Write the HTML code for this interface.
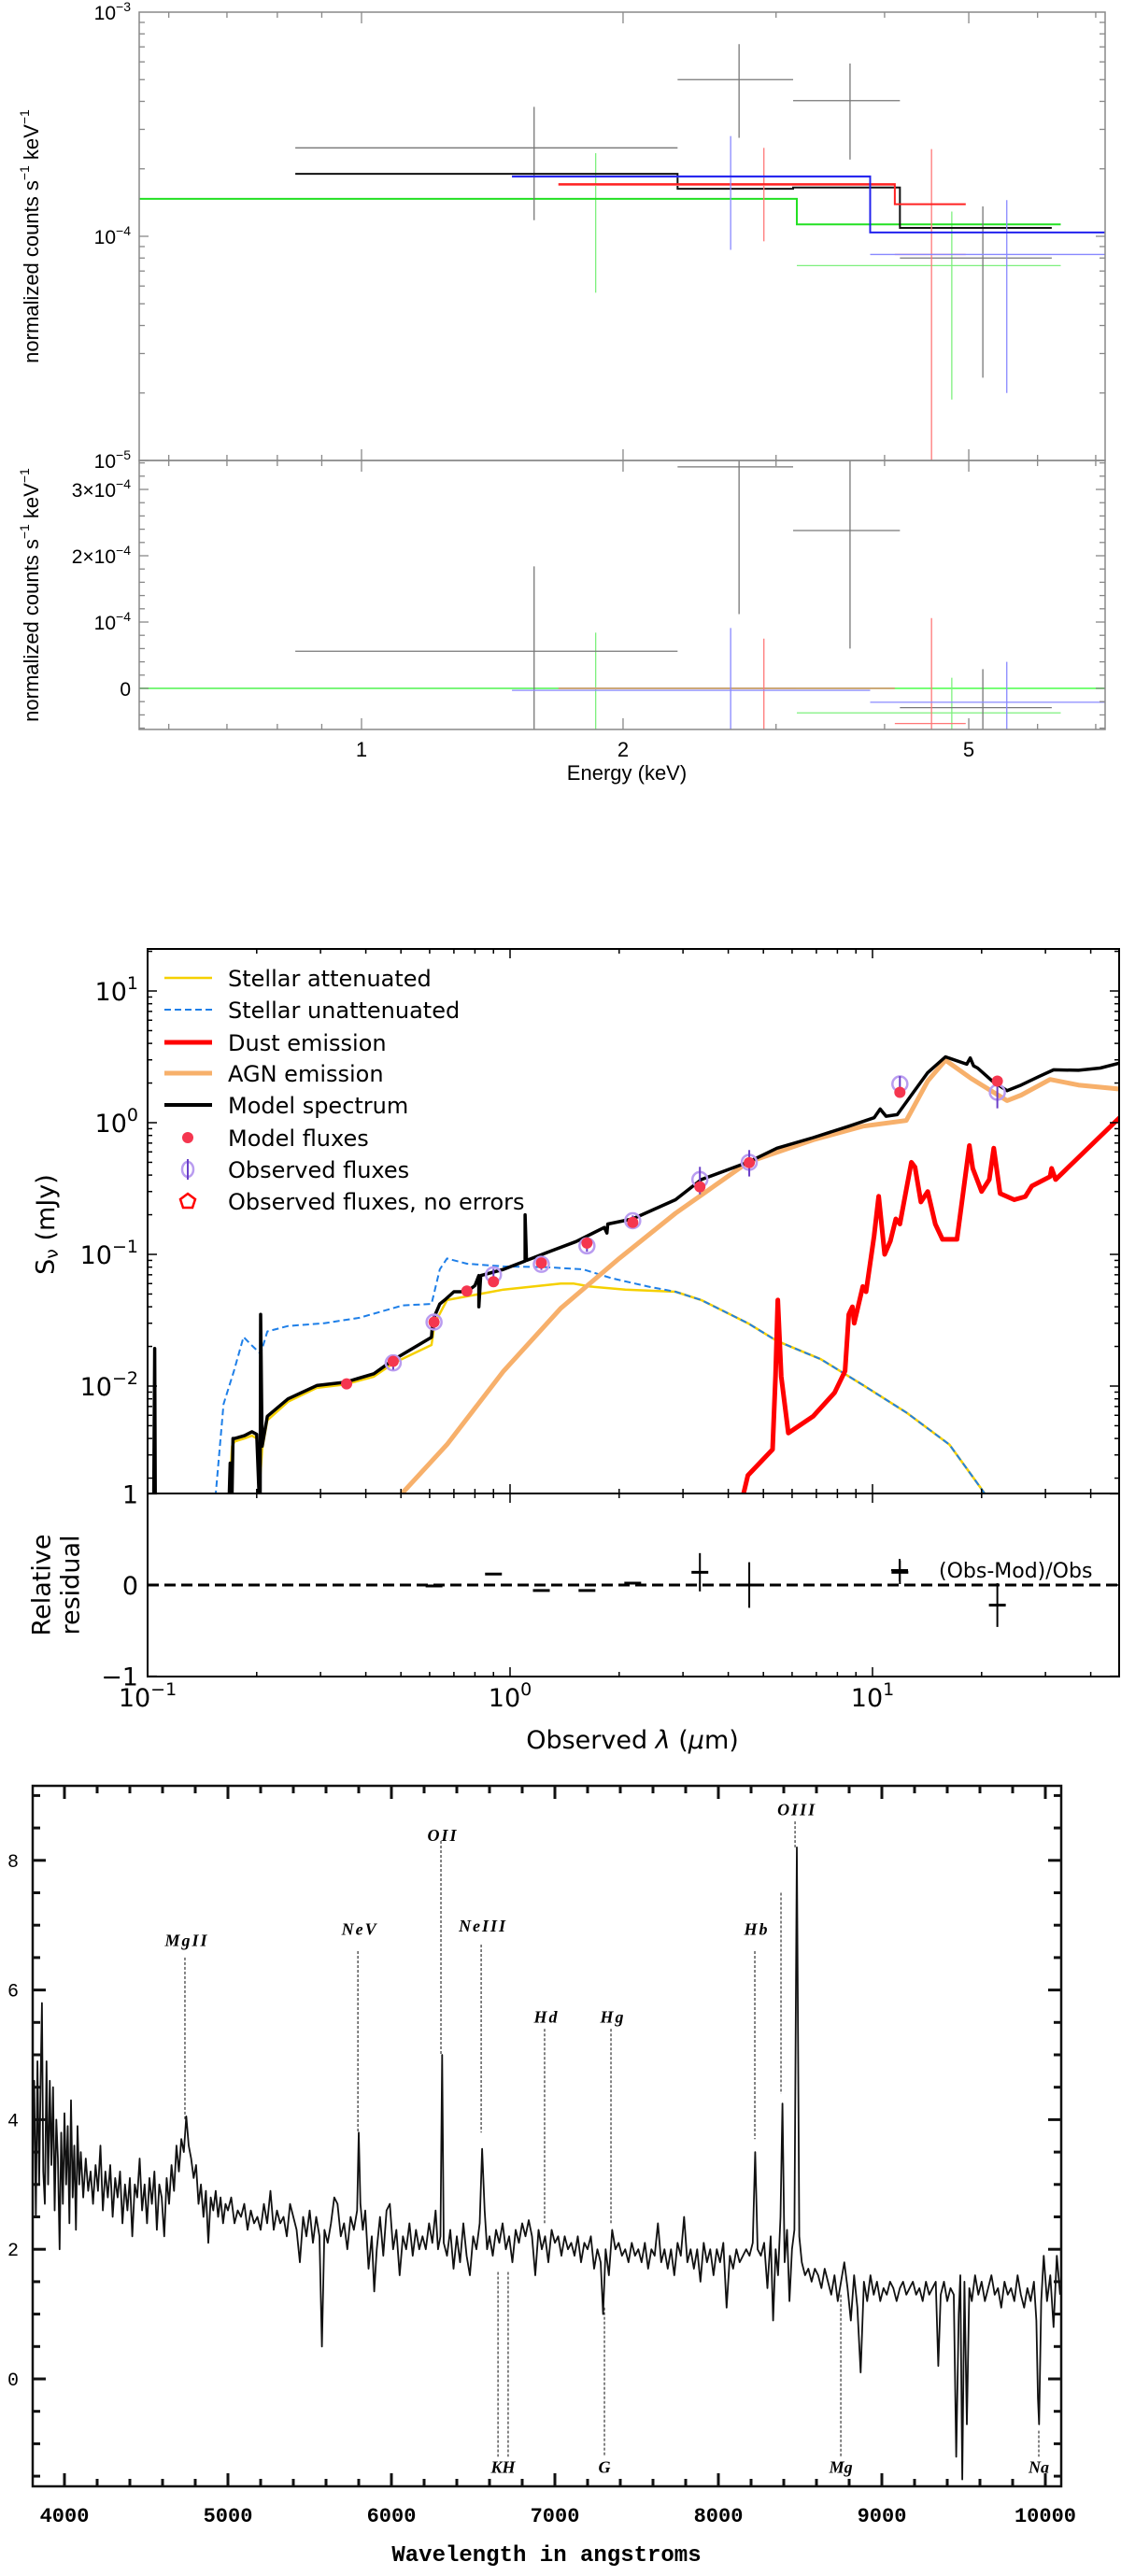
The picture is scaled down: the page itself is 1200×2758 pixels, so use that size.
<!DOCTYPE html>
<html><head><meta charset="utf-8"><title>Figures</title>
<style>
html,body{margin:0;padding:0;background:#fff;}
svg{display:block;}
</style></head>
<body>
<svg id="fig" xmlns="http://www.w3.org/2000/svg" width="1200" height="2758" viewBox="0 0 1200 2758">
<defs>
<clipPath id="c1t"><rect x="149" y="13" width="1034" height="480"/></clipPath>
<clipPath id="c1b"><rect x="149" y="493" width="1034" height="288"/></clipPath>
<clipPath id="c2t"><rect x="158" y="1016" width="1040" height="583"/></clipPath>
<clipPath id="c2b"><rect x="158" y="1599" width="1040" height="196"/></clipPath>
<clipPath id="c3"><rect x="35" y="1912" width="1101" height="750"/></clipPath>
</defs>
<rect width="1200" height="2758" fill="#fff"/>

<!-- Panel 1: X-ray spectrum -->
<g id="p1" font-family="Liberation Sans, sans-serif">
  <g id="p1marks"></g>
  <g id="p1axes"></g>
  <rect x="149" y="13" width="1034" height="480" fill="none" stroke="#888" stroke-width="1.5"/>
  <rect x="149" y="493" width="1034" height="288" fill="none" stroke="#888" stroke-width="1.5"/>
  <text x="35" y="253" font-size="22" text-anchor="middle" dominant-baseline="middle" transform="rotate(-90 35 253)">normalized counts s<tspan dy="-8" font-size="14">−1</tspan><tspan dy="8"> keV</tspan><tspan dy="-8" font-size="14">−1</tspan></text>
  <text x="35" y="637" font-size="22" text-anchor="middle" dominant-baseline="middle" transform="rotate(-90 35 637)">normalized counts s<tspan dy="-8" font-size="14">−1</tspan><tspan dy="8"> keV</tspan><tspan dy="-8" font-size="14">−1</tspan></text>
  <text x="671" y="835" font-size="22" text-anchor="middle">Energy (keV)</text>
</g>

<!-- Panel 2: SED -->
<g id="p2" font-family="DejaVu Sans, sans-serif">
  <g id="p2marks"></g>
  <g id="p2axes"></g>
  <rect x="158" y="1016" width="1040" height="583" fill="none" stroke="#000" stroke-width="2"/>
  <rect x="158" y="1599" width="1040" height="196" fill="none" stroke="#000" stroke-width="2"/>
  <text x="50" y="1311" font-size="27" text-anchor="middle" dominant-baseline="middle" transform="rotate(-90 50 1311)">S<tspan font-size="19" dy="6">ν</tspan><tspan dy="-6"> (mJy)</tspan></text>
  <text x="46" y="1697" font-size="27" text-anchor="middle" dominant-baseline="middle" transform="rotate(-90 46 1697)">Relative</text>
  <text x="77" y="1697" font-size="27" text-anchor="middle" dominant-baseline="middle" transform="rotate(-90 77 1697)">residual</text>
  <text x="677" y="1872" font-size="27" text-anchor="middle">Observed <tspan font-style="italic">λ</tspan> (<tspan font-style="italic">μ</tspan>m)</text>
  <g id="p2legend" font-size="24"></g>
</g>

<!-- Panel 3: optical spectrum -->
<g id="p3" font-family="Liberation Serif, serif">
  <g id="p3marks"></g>
  <g id="p3axes"></g>
  <rect x="35" y="1912" width="1101" height="750" fill="none" stroke="#111" stroke-width="2.5"/>
  <text x="585" y="2742" font-size="24" font-weight="bold" font-family="Liberation Mono, monospace" text-anchor="middle">Wavelength in angstroms</text>
</g>
</svg>

<script>
// ---------- Panel 1 data ----------
const blackBinLo = [0.839, 2.311, 3.139, 4.166];
const blackBinHi = [2.311, 3.139, 4.166, 6.23];
const blackCenter = [1.58, 2.72, 3.65, 5.19];
const blackVal = [2.48e-4, 5.0e-4, 4.03e-4, 8.0e-5];
const blackErrHi = [3.78e-4, 7.2e-4, 5.9e-4, 1.36e-4];
const blackErrLo = [1.18e-4, 2.75e-4, 2.2e-4, 2.34e-5];
const blackModelEdges = [0.839, 2.311, 3.139, 4.166, 6.23];
const blackModelVal = [1.9e-4, 1.63e-4, 1.65e-4, 1.09e-4];
const blackRes = [0.56e-4, 3.34e-4, 2.38e-4, -0.29e-4];
const blackResErr = [1.28e-4, 2.22e-4, 1.78e-4, 0.58e-4];

const redBinLo = [1.685, 4.11];
const redBinHi = [4.11, 4.96];
const redCenter = [2.905, 4.53];
const redVal = [1.69e-4, 8.3e-5];
const redErrHi = [2.48e-4, 2.45e-4];
const redErrLo = [9.5e-5, 5e-6];
const redModelEdges = [1.685, 4.11, 4.96];
const redModelVal = [1.71e-4, 1.39e-4];
const redRes = [0.0, -0.53e-4];
const redResErr = [0.75e-4, 1.59e-4];

const blueBinLo = [1.49, 3.85];
const blueBinHi = [3.85, 7.2];
const blueCenter = [2.66, 5.53];
const blueVal = [1.84e-4, 8.3e-5];
const blueErrHi = [2.8e-4, 1.45e-4];
const blueErrLo = [8.7e-5, 2.0e-5];
const blueModelEdges = [1.49, 3.85, 7.2];
const blueModelVal = [1.85e-4, 1.04e-4];
const blueRes = [-0.03e-4, -0.21e-4];
const blueResErr = [0.94e-4, 0.61e-4];

const greenBinLo = [0.555, 3.17];
const greenBinHi = [3.17, 6.38];
const greenCenter = [1.86, 4.78];
const greenVal = [1.47e-4, 7.4e-5];
const greenErrHi = [2.35e-4, 1.29e-4];
const greenErrLo = [5.6e-5, 1.87e-5];
const greenModelEdges = [0.555, 3.17, 6.38];
const greenModelVal = [1.47e-4, 1.13e-4];
const greenRes = [0.0, -0.37e-4];
const greenResErr = [0.84e-4, 0.53e-4];

const p1MajorX = [1, 2, 5];
const p1MajorXLabels = ['1', '2', '5'];
const p1MinorX = [0.6, 0.7, 0.8, 0.9, 3, 4, 6, 7];

// ---------- Panel 2 data ----------
const modelSpecLam = [0.104,0.1046,0.105,0.168,0.169,0.171,0.172,0.174,0.185,0.194,0.200,0.203,0.2045,0.205,0.207,0.214,0.244,0.293,0.351,0.421,0.478,0.607,0.612,0.64,0.66,0.70,0.76,0.80,0.82,0.82,0.83,0.96,1.10,1.10,1.11,1.26,1.52,1.82,1.85,1.86,2.18,2.86,3.37,4.53,5.45,6.86,8.6,10.1,10.5,10.9,11.7,12.8,14.2,15.9,18.2,18.6,19.0,19.5,21.4,23.5,25.7,28.8,31.6,37,42.5,49];
const modelSpecFlux = [0.0015,0.0193,0.0015,0.0015,0.0026,0.0015,0.0040,0.0040,0.0042,0.0045,0.0043,0.0015,0.0015,0.035,0.0035,0.0059,0.0080,0.0101,0.0107,0.0124,0.0159,0.0235,0.0316,0.042,0.045,0.052,0.052,0.058,0.069,0.040,0.069,0.077,0.089,0.20,0.09,0.103,0.125,0.16,0.145,0.17,0.186,0.26,0.37,0.50,0.64,0.77,0.94,1.09,1.27,1.12,1.15,1.62,2.4,3.16,2.78,3.1,2.7,2.6,2.07,1.75,1.93,2.24,2.52,2.5,2.6,2.87];
const stellarAttLam = [0.168,0.171,0.174,0.185,0.194,0.200,0.203,0.207,0.214,0.244,0.293,0.351,0.421,0.478,0.607,0.62,0.67,0.96,1.38,1.50,1.66,2.08,2.86,3.37,4.53,5.45,7.2,9.4,12.4,16.3,20.5,22];
const stellarAttFlux = [0.0015,0.0035,0.0038,0.0040,0.0042,0.0040,0.0015,0.0033,0.0055,0.0076,0.0097,0.0103,0.0118,0.0150,0.0205,0.030,0.045,0.054,0.060,0.060,0.057,0.054,0.052,0.045,0.030,0.022,0.016,0.0102,0.0063,0.0036,0.0015,0.0011];
const stellarUnattLam = [0.153,0.162,0.173,0.184,0.194,0.205,0.214,0.244,0.307,0.384,0.506,0.607,0.64,0.67,0.76,0.96,1.26,1.59,1.9,2.4,2.86,3.37,4.53,5.45,7.2,9.4,12.4,16.3,20.5,22];
const stellarUnattFlux = [0.0012,0.0073,0.013,0.0236,0.0203,0.0176,0.026,0.0286,0.030,0.033,0.041,0.042,0.077,0.093,0.085,0.081,0.080,0.077,0.066,0.057,0.052,0.045,0.030,0.022,0.016,0.0102,0.0063,0.0036,0.0015,0.0011];
const agnLam = [0.5,0.67,0.96,1.38,2.0,2.86,4.53,6.86,9.4,12.4,14.2,15.9,18.7,23.5,25.7,30.9,37,49];
const agnFlux = [0.0015,0.0036,0.013,0.039,0.093,0.205,0.50,0.74,0.94,1.04,2.07,2.98,2.17,1.47,1.62,2.13,1.93,1.79];
const dustLam = [4.4,4.53,5.3,5.4,5.48,5.6,5.86,6.86,7.86,8.4,8.6,8.8,8.9,9.4,9.6,10.1,10.4,10.8,11.2,11.6,11.9,12.8,13.1,13.6,14.2,14.9,15.6,17.1,18.5,18.9,20,21,21.6,22.5,24.6,26.4,27.5,30.9,31.2,32,49];
const dustFlux = [0.0015,0.0021,0.0033,0.012,0.045,0.0118,0.0044,0.0059,0.0089,0.013,0.035,0.040,0.030,0.057,0.052,0.138,0.276,0.10,0.126,0.186,0.17,0.50,0.46,0.25,0.30,0.17,0.13,0.13,0.67,0.45,0.30,0.37,0.64,0.29,0.26,0.275,0.33,0.39,0.45,0.37,1.15];
const bandLam = [0.354,0.476,0.617,0.76,0.90,1.22,1.63,2.18,3.34,4.57,11.9,22.1];
const modelFluxVals = [0.0104,0.0154,0.0306,0.0527,0.062,0.086,0.122,0.175,0.326,0.497,1.70,2.07];
const obsLam = [0.476,0.617,0.90,1.22,1.63,2.18,3.34,4.57,11.9,22.1];
const obsFluxVals = [0.0150,0.0306,0.070,0.084,0.116,0.180,0.37,0.50,1.97,1.70];
const obsFluxErr = [0.001,0.002,0.004,0.004,0.006,0.008,0.07,0.09,0.18,0.35];
const resLam = [0.617,0.90,1.22,1.63,2.18,3.34,4.57,11.9,22.1];
const resVals = [-0.01,0.12,-0.06,-0.06,0.02,0.14,0.0,0.14,-0.22];
const resErr = [0.005,0.0,0.0,0.0,0.01,0.21,0.25,0.13,0.24];
const sedYTicks = [-2,-1,0,1];
const sedXTicks = [-1,0,1];

// ---------- Panel 3 data ----------
const specPairs = [3806,3.5,3815,4.6,3825,2.5,3835,4.9,3845,3.0,3855,4.7,3862,5.8,3870,3.2,3880,2.7,3890,4.9,3900,3.0,3910,4.6,3920,3.3,3930,4.5,3940,2.6,3950,4.0,3960,3.4,3970,2.0,3980,3.8,3990,2.7,4000,4.1,4010,3.0,4020,3.9,4030,2.4,4040,4.3,4050,2.8,4060,3.6,4070,2.3,4080,3.9,4090,3.0,4100,3.5,4115,2.8,4130,3.4,4145,2.9,4160,3.2,4175,2.7,4190,3.3,4205,2.9,4220,3.6,4235,2.6,4250,3.2,4265,2.8,4280,3.3,4295,2.5,4310,3.1,4325,2.8,4340,3.2,4355,2.4,4370,3.0,4385,2.6,4400,3.1,4415,2.2,4430,3.0,4445,2.8,4460,3.4,4475,2.6,4490,3.0,4505,2.4,4520,3.1,4535,2.7,4550,3.2,4565,2.3,4580,3.0,4595,2.8,4610,2.2,4625,3.1,4640,2.7,4655,3.3,4670,2.9,4685,3.6,4700,3.2,4715,3.7,4730,3.5,4745,4.05,4760,3.6,4775,3.4,4790,3.1,4805,3.3,4820,2.7,4835,3.0,4850,2.5,4865,2.9,4880,2.1,4895,2.8,4910,2.6,4925,2.9,4940,2.5,4955,2.8,4970,2.4,4985,2.7,5000,2.6,5020,2.8,5040,2.4,5060,2.6,5080,2.5,5100,2.7,5120,2.3,5140,2.6,5160,2.4,5180,2.5,5200,2.3,5220,2.7,5240,2.4,5260,2.9,5280,2.3,5300,2.6,5320,2.4,5340,2.5,5360,2.2,5380,2.7,5400,2.5,5420,2.3,5440,1.8,5460,2.5,5480,2.2,5500,2.6,5520,2.1,5540,2.5,5560,2.2,5575,0.5,5590,2.3,5610,2.1,5630,2.4,5650,2.8,5670,2.7,5690,2.2,5710,2.4,5730,2.0,5750,2.5,5770,2.3,5790,2.6,5800,3.8,5810,2.7,5825,2.3,5840,2.6,5860,1.7,5880,2.2,5895,1.35,5910,2.0,5930,2.5,5950,1.9,5970,2.6,5990,2.7,6010,2.0,6030,2.3,6050,1.6,6070,2.2,6090,2.0,6110,2.4,6130,1.9,6150,2.3,6170,2.0,6190,2.2,6210,2.0,6230,2.4,6250,2.1,6270,2.6,6285,2.0,6300,2.2,6310,5.0,6320,2.1,6340,1.9,6360,2.3,6380,1.7,6400,2.2,6420,1.8,6440,2.4,6460,1.9,6480,1.6,6500,2.2,6520,2.0,6540,2.4,6555,3.55,6570,2.6,6585,2.0,6600,2.2,6620,1.9,6640,2.3,6660,2.1,6680,2.4,6700,2.0,6720,2.2,6740,1.8,6760,2.3,6780,2.1,6800,2.4,6820,2.2,6840,2.45,6860,2.2,6880,1.6,6900,2.3,6920,2.0,6940,2.2,6960,1.8,6980,2.3,7000,2.1,7020,2.2,7040,1.9,7060,2.2,7080,2.0,7100,2.1,7120,1.9,7140,2.2,7160,1.8,7180,2.1,7200,2.0,7220,2.2,7240,1.7,7260,2.0,7280,1.8,7295,1.0,7310,2.0,7330,1.6,7350,2.3,7370,2.0,7390,2.1,7410,1.9,7430,2.0,7450,1.8,7470,2.1,7490,1.9,7510,2.0,7530,1.8,7550,2.1,7570,1.7,7590,2.0,7610,1.9,7630,2.4,7650,1.8,7670,2.0,7690,1.7,7710,2.0,7730,1.6,7750,2.1,7770,1.9,7790,2.5,7810,1.8,7830,2.0,7850,1.7,7870,2.0,7890,1.5,7910,2.1,7930,1.8,7950,2.0,7970,1.6,7990,2.0,8010,1.8,8030,2.1,8050,1.1,8070,1.9,8090,1.7,8110,2.0,8130,1.8,8150,1.9,8170,2.0,8190,1.9,8210,2.1,8225,3.5,8240,2.0,8260,1.9,8280,2.1,8300,1.4,8320,2.2,8335,0.9,8350,2.0,8365,1.6,8380,2.5,8392,4.25,8405,1.8,8420,2.3,8435,1.2,8450,2.0,8465,2.3,8480,8.2,8495,2.2,8510,1.8,8530,1.6,8550,1.7,8570,1.5,8590,1.7,8610,1.6,8630,1.4,8650,1.7,8670,1.5,8690,1.3,8710,1.6,8730,1.2,8750,1.5,8770,1.8,8790,1.4,8810,0.9,8830,1.6,8850,1.1,8870,0.1,8890,1.5,8910,1.2,8930,1.6,8950,1.3,8970,1.5,8990,1.2,9010,1.4,9030,1.3,9050,1.5,9070,1.4,9090,1.2,9110,1.4,9130,1.5,9150,1.3,9170,1.4,9190,1.5,9210,1.3,9230,1.4,9250,1.2,9270,1.5,9290,1.3,9310,1.4,9330,1.5,9345,0.2,9360,1.3,9380,1.5,9400,1.2,9420,1.4,9440,1.3,9455,-1.2,9470,1.0,9480,1.6,9492,-1.55,9505,1.5,9520,-0.7,9535,1.4,9550,1.2,9570,1.6,9590,1.3,9610,1.5,9630,1.2,9650,1.4,9670,1.6,9690,1.3,9710,1.4,9730,1.1,9750,1.5,9770,1.3,9790,1.4,9810,1.2,9830,1.6,9850,1.3,9870,1.1,9890,1.4,9910,1.2,9930,1.5,9945,0.9,9955,-0.3,9962,-0.7,9975,1.2,9990,1.9,10010,1.2,10030,1.6,10050,0.8,10070,1.9,10090,1.3];
const emLineNames = ['MgII','NeV','OII','NeIII','Hd','Hg','Hb','OIII',''];
const emLineWave = [4737,5795,6303,6549,6937,7343,8223,8469,8383];
const emLineLabelY = [6.78,6.95,8.4,7.0,5.6,5.6,6.95,8.8,0];
const emLineTop = [6.5,6.6,8.3,6.7,5.4,5.4,6.6,8.6,7.5];
const emLineBottom = [4.0,3.8,5.0,3.8,2.4,2.4,3.7,8.2,4.4];
const absLineNames = ['','KH','G','Mg','Na'];
const absLineWave = [6652,6714,7303,8749,9960];
const absLineTop = [1.65,1.65,1.1,1.3,-0.8];
const specXTicks = [4000,5000,6000,7000,8000,9000,10000];
const specYTicks = [0,2,4,6,8];

// ---------- helpers ----------
const NS = 'http://www.w3.org/2000/svg';
function mk(parent, tag, attrs) {
  const e = document.createElementNS(NS, tag);
  for (const k in attrs) e.setAttribute(k, attrs[k]);
  parent.appendChild(e);
  return e;
}
const L = Math.log10;

// ================= Panel 1 =================
const px1 = E => 387 + 930 * L(E);
const pyT = v => 13 + 240 * (-3 - L(v));
const pyB = v => 737 - v * 710000;
const m1 = document.getElementById('p1marks');
const a1 = document.getElementById('p1axes');
const gT = mk(m1, 'g', {'clip-path': 'url(#c1t)'});


const gB = mk(m1, 'g', {'clip-path': 'url(#c1b)'});



const zl = mk(gB, 'line', {x1: 149, x2: 1183, y1: pyB(0), y2: pyB(0), stroke: '#7f7', 'stroke-width': 2});



function drawSeries(name, dCol, mCol, lo, hi, cen, val, eh, el, mEdges, mVal, res, resE) {
  for (let i = 0; i < val.length; i++) {
    const h = mk(gT, 'line', {x1: px1(lo[i]), x2: px1(hi[i]), y1: pyT(val[i]), y2: pyT(val[i]), stroke: dCol, 'stroke-width': 1.3});
    
    
    const v = mk(gT, 'line', {x1: px1(cen[i]), x2: px1(cen[i]), y1: pyT(eh[i]), y2: pyT(el[i]), stroke: dCol, 'stroke-width': 1.3});
    
    
    const rh = mk(gB, 'line', {x1: px1(lo[i]), x2: px1(hi[i]), y1: pyB(res[i]), y2: pyB(res[i]), stroke: dCol, 'stroke-width': 1.3});
    
    
    const rv = mk(gB, 'line', {x1: px1(cen[i]), x2: px1(cen[i]), y1: pyB(res[i] + resE[i]), y2: pyB(res[i] - resE[i]) + (el[i] < 1e-5 ? 100 : 0), stroke: dCol, 'stroke-width': 1.3});
    
    
  }
  let d = '';
  for (let i = 0; i < mVal.length; i++) {
    d += (i === 0 ? 'M' : 'L') + px1(mEdges[i]) + ' ' + pyT(mVal[i]) + ' L' + px1(mEdges[i + 1]) + ' ' + pyT(mVal[i]) + ' ';
  }
  const p = mk(gT, 'path', {d: d, fill: 'none', stroke: mCol, 'stroke-width': 2});
  
  
}
drawSeries('green', '#7ef07e', '#22e022', greenBinLo, greenBinHi, greenCenter, greenVal, greenErrHi, greenErrLo, greenModelEdges, greenModelVal, greenRes, greenResErr);
drawSeries('black', '#777', '#111', blackBinLo, blackBinHi, blackCenter, blackVal, blackErrHi, blackErrLo, blackModelEdges, blackModelVal, blackRes, blackResErr);
drawSeries('red', '#f77', '#f22', redBinLo, redBinHi, redCenter, redVal, redErrHi, redErrLo, redModelEdges, redModelVal, redRes, redResErr);
drawSeries('blue', '#88f', '#22e', blueBinLo, blueBinHi, blueCenter, blueVal, blueErrHi, blueErrLo, blueModelEdges, blueModelVal, blueRes, blueResErr);

function tick1(x1, y1, x2, y2, nm) {
  const t = mk(a1, 'line', {x1: x1, y1: y1, x2: x2, y2: y2, stroke: '#888', 'stroke-width': 1.3});
  
  
}
p1MajorX.forEach((E, i) => {
  const x = px1(E);
  tick1(x, 13, x, 25, 'x-major-tick');
  tick1(x, 493, x, 481, 'x-major-tick');
  tick1(x, 493, x, 505, 'x-major-tick');
  tick1(x, 781, x, 769, 'x-major-tick');
  const t = mk(a1, 'text', {x: x, y: 810, 'font-size': 22, 'text-anchor': 'middle'});
  t.textContent = p1MajorXLabels[i];
  
  
});
p1MinorX.forEach(E => {
  const x = px1(E);
  tick1(x, 13, x, 19, 'x-minor-tick');
  tick1(x, 493, x, 487, 'x-minor-tick');
  tick1(x, 493, x, 499, 'x-minor-tick');
  tick1(x, 781, x, 775, 'x-minor-tick');
});
for (let dec = -5; dec <= -4; dec++) {
  for (let k = 1; k <= 9; k++) {
    const y = pyT(k * Math.pow(10, dec));
    const len = k === 1 ? 10 : 6;
    tick1(149, y, 149 + len, y, 'top-y-tick');
    tick1(1183, y, 1183 - len, y, 'top-y-tick');
  }
}
const topLabels = [-3, -4, -5];
topLabels.forEach(p => {
  const t = mk(a1, 'text', {x: 140, y: pyT(Math.pow(10, p)) + 8, 'font-size': 21, 'text-anchor': 'end'});
  
  
  t.innerHTML = '10<tspan dy="-9" font-size="14">' + (p === -3 ? '−3' : p === -4 ? '−4' : '−5') + '</tspan>';
});
for (let v = -0.6; v <= 3.41; v += 0.2) {
  const val = Math.round(v * 10) / 10;
  const y = pyB(val * 1e-4);
  const major = Math.abs(val - Math.round(val)) < 0.01;
  tick1(149, y, 149 + (major ? 10 : 6), y, 'bottom-y-tick');
  tick1(1183, y, 1183 - (major ? 10 : 6), y, 'bottom-y-tick');
}
const botLabels = ['0', '10<tspan dy="-9" font-size="14">−4</tspan>', '2×10<tspan dy="-9" font-size="14">−4</tspan>', '3×10<tspan dy="-9" font-size="14">−4</tspan>'];
botLabels.forEach((s, i) => {
  const t = mk(a1, 'text', {x: 140, y: pyB(i * 1e-4) + 8, 'font-size': 21, 'text-anchor': 'end'});
  
  
  t.innerHTML = s;
});

// ================= Panel 2 =================
const px2 = lam => 158 + 388 * (L(lam) + 1);
const py2 = f => 1202 - 141 * L(f);
const pyR = r => 1697 - 97.6 * r;
const m2 = document.getElementById('p2marks');
const a2 = document.getElementById('p2axes');
const g2 = mk(m2, 'g', {'clip-path': 'url(#c2t)'});


const g2r = mk(m2, 'g', {'clip-path': 'url(#c2b)'});



function curve(g, lams, fl, attrs) {
  let d = '';
  lams.forEach((l, i) => { d += (i ? 'L' : 'M') + px2(l).toFixed(1) + ' ' + py2(fl[i]).toFixed(1) + ' '; });
  attrs.d = d; attrs.fill = 'none'; attrs['stroke-linejoin'] = 'round';
  return mk(g, 'path', attrs);
}
const cA = curve(g2, stellarAttLam, stellarAttFlux, {stroke: '#f5d000', 'stroke-width': 2.5});


const cU = curve(g2, stellarUnattLam, stellarUnattFlux, {stroke: '#1e7fe8', 'stroke-width': 2, 'stroke-dasharray': '7 4'});


const cG = curve(g2, agnLam, agnFlux, {stroke: '#f7b06b', 'stroke-width': 5});


const cD = curve(g2, dustLam, dustFlux, {stroke: '#f00', 'stroke-width': 5});


const cM = curve(g2, modelSpecLam, modelSpecFlux, {stroke: '#000', 'stroke-width': 3.5});



obsLam.forEach((l, i) => {
  const x = px2(l);
  const c = mk(g2, 'circle', {cx: x, cy: py2(obsFluxVals[i]), r: 8, fill: 'none', stroke: '#b99cf0', 'stroke-width': 2.5});
  
  
  const e = mk(g2, 'line', {x1: x, x2: x, y1: py2(obsFluxVals[i] + obsFluxErr[i]) - 3, y2: py2(Math.max(obsFluxVals[i] - obsFluxErr[i], 1e-4)) + 3, stroke: '#6a3fc8', 'stroke-width': 2});
  
  
});
bandLam.forEach((l, i) => {
  const c = mk(g2, 'circle', {cx: px2(l), cy: py2(modelFluxVals[i]), r: 6, fill: '#f5364f'});
  
  
});

const z2 = mk(g2r, 'line', {x1: 158, x2: 1198, y1: pyR(0), y2: pyR(0), stroke: '#000', 'stroke-width': 3, 'stroke-dasharray': '12 6'});


resLam.forEach((l, i) => {
  const x = px2(l);
  const h = mk(g2r, 'line', {x1: x - 9, x2: x + 9, y1: pyR(resVals[i]), y2: pyR(resVals[i]), stroke: '#000', 'stroke-width': 3});
  
  
  if (resErr[i] > 0) {
    const v = mk(g2r, 'line', {x1: x, x2: x, y1: pyR(resVals[i] + resErr[i]), y2: pyR(resVals[i] - resErr[i]), stroke: '#000', 'stroke-width': 2});
    
    
  }
});
const rl1 = mk(a2, 'line', {x1: 963, x2: 963, y1: 1669, y2: 1693, stroke: '#000', 'stroke-width': 2});


const rl2 = mk(a2, 'line', {x1: 954, x2: 972, y1: 1681, y2: 1681, stroke: '#000', 'stroke-width': 2});


const rlt = mk(a2, 'text', {x: 1005, y: 1689, 'font-size': 22});
rlt.textContent = '(Obs-Mod)/Obs';



function tk(x1, y1, x2, y2, w, nm) {
  const t = mk(a2, 'line', {x1: x1, y1: y1, x2: x2, y2: y2, stroke: '#000', 'stroke-width': w});
  
  
}
for (let dec = -1; dec <= 1; dec++) {
  for (let k = 1; k <= 9; k++) {
    const lam = k * Math.pow(10, dec);
    if (lam > 50) continue;
    const x = px2(lam);
    const len = k === 1 ? 10 : 5;
    tk(x, 1016, x, 1016 + len, 1.5, 'x-tick');
    tk(x, 1795, x, 1795 - len, 1.5, 'x-tick');
    tk(x, 1599, x, 1599 - len, 1.5, 'x-tick');
    tk(x, 1599, x, 1599 + len, 1.5, 'x-tick');
  }
}
sedXTicks.forEach(p => {
  const t = mk(a2, 'text', {x: px2(Math.pow(10, p)), y: 1827, 'font-size': 27, 'text-anchor': 'middle'});
  
  
  t.innerHTML = '10<tspan dy="-12" font-size="19">' + (p < 0 ? '−1' : String(p)) + '</tspan>';
});
for (let dec = -3; dec <= 1; dec++) {
  for (let k = 1; k <= 9; k++) {
    const y = py2(k * Math.pow(10, dec));
    if (y < 1016 || y > 1599) continue;
    const len = k === 1 ? 10 : 5;
    tk(158, y, 158 + len, y, 1.5, 'y-tick');
    tk(1198, y, 1198 - len, y, 1.5, 'y-tick');
  }
}
sedYTicks.forEach(p => {
  const t = mk(a2, 'text', {x: 148, y: py2(Math.pow(10, p)) + 10, 'font-size': 27, 'text-anchor': 'end'});
  
  
  t.innerHTML = '10<tspan dy="-12" font-size="19">' + (p < 0 ? '−' + (-p) : String(p)) + '</tspan>';
});
[-1, 0, 1].forEach(r => {
  tk(158, pyR(r), 168, pyR(r), 1.5, 'residual-y-tick');
  tk(1198, pyR(r), 1188, pyR(r), 1.5, 'residual-y-tick');
  const t = mk(a2, 'text', {x: 148, y: pyR(r) + 10, 'font-size': 27, 'text-anchor': 'end'});
  t.textContent = r < 0 ? '−1' : String(r);
  
  
});

const lg = document.getElementById('p2legend');
const legLabels = ['Stellar attenuated','Stellar unattenuated','Dust emission','AGN emission','Model spectrum','Model fluxes','Observed fluxes','Observed fluxes, no errors'];
const legY = [1047,1081,1116,1149,1183,1218,1252,1286];
const legStyles = [['#f5d000',2.5,''],['#1e7fe8',2,'7 4'],['#f00',5,''],['#f7b06b',5,''],['#000',4,'']];
legLabels.forEach((s, i) => {
  const y = legY[i];
  if (i < 5) {
    const l = mk(lg, 'line', {x1: 176, x2: 227, y1: y, y2: y, stroke: legStyles[i][0], 'stroke-width': legStyles[i][1], 'stroke-dasharray': legStyles[i][2]});
    
    
  } else if (i === 5) {
    const c = mk(lg, 'circle', {cx: 201, cy: y, r: 6, fill: '#f5364f'});
    
    
  } else if (i === 6) {
    const c = mk(lg, 'ellipse', {cx: 201, cy: y, rx: 6, ry: 8, fill: 'none', stroke: '#b99cf0', 'stroke-width': 2.5});
    
    
    const b = mk(lg, 'line', {x1: 201, x2: 201, y1: y - 11, y2: y + 11, stroke: '#6a3fc8', 'stroke-width': 2});
    
    
  } else {
    const pg = mk(lg, 'polygon', {points: '201,' + (y - 8) + ' 209,' + (y - 2) + ' 206,' + (y + 7) + ' 196,' + (y + 7) + ' 193,' + (y - 2), fill: 'none', stroke: '#f00', 'stroke-width': 2.5});
    
    
  }
  const t = mk(lg, 'text', {x: 244, y: y + 9});
  t.textContent = s;
  
  
});

// ================= Panel 3 =================
const px3 = w => 69 + 0.175 * (w - 4000);
const py3 = f => 2547 - 69.4 * f;
const m3 = document.getElementById('p3marks');
const a3 = document.getElementById('p3axes');
const g3 = mk(m3, 'g', {'clip-path': 'url(#c3)'});


let sd = '';
for (let i = 0; i < specPairs.length; i += 2) {
  sd += (i ? 'L' : 'M') + px3(specPairs[i]).toFixed(1) + ' ' + py3(specPairs[i + 1]).toFixed(1) + ' ';
}
const sp = mk(g3, 'path', {d: sd, fill: 'none', stroke: '#111', 'stroke-width': 1.8, 'stroke-linejoin': 'round'});



emLineWave.forEach((w, i) => {
  const x = px3(w);
  const l = mk(g3, 'line', {x1: x, x2: x, y1: py3(emLineTop[i]), y2: py3(emLineBottom[i]), stroke: '#333', 'stroke-width': 1.2, 'stroke-dasharray': '3 2'});
  
  
  if (emLineNames[i]) {
    const t = mk(g3, 'text', {x: x + 2, y: py3(emLineLabelY[i]) + 7, 'font-size': 18, 'font-style': 'italic', 'font-weight': 'bold', 'text-anchor': 'middle', 'letter-spacing': 2});
    t.textContent = emLineNames[i];
    
    
  }
});
absLineWave.forEach((w, i) => {
  const x = px3(w);
  const l = mk(g3, 'line', {x1: x, x2: x, y1: py3(absLineTop[i]), y2: py3(-1.2), stroke: '#333', 'stroke-width': 1.2, 'stroke-dasharray': '3 2'});
  
  
  if (absLineNames[i]) {
    const t = mk(g3, 'text', {x: absLineNames[i] === 'KH' ? px3(6683) : x, y: py3(-1.35) + 7, 'font-size': 18, 'font-style': 'italic', 'font-weight': 'bold', 'text-anchor': 'middle'});
    t.textContent = absLineNames[i];
    
    
  }
});

function tk3(x1, y1, x2, y2, nm) {
  const t = mk(a3, 'line', {x1: x1, y1: y1, x2: x2, y2: y2, stroke: '#111', 'stroke-width': 3});
  
  
}
for (let w = 3800; w <= 10090; w += 200) {
  const x = px3(w);
  if (x < 36) continue;
  const major = w % 1000 === 0;
  const len = major ? 14 : 8;
  tk3(x, 1912, x, 1912 + len, 'x-tick');
  tk3(x, 2662, x, 2662 - len, 'x-tick');
}
specXTicks.forEach(w => {
  const t = mk(a3, 'text', {x: px3(w), y: 2700, 'font-size': 22, 'font-weight': 'bold', 'text-anchor': 'middle', 'font-family': 'Liberation Mono, monospace'});
  t.textContent = String(w);
  
  
});
for (let f = -1.5; f <= 9; f += 0.5) {
  const y = py3(f);
  const major = Math.abs(f % 2) < 0.01;
  const len = major ? 14 : 8;
  tk3(35, y, 35 + len, y, 'y-tick');
  tk3(1136, y, 1136 - len, y, 'y-tick');
}
specYTicks.forEach(f => {
  const t = mk(a3, 'text', {x: 20, y: py3(f) + 7, 'font-size': 20, 'text-anchor': 'end', 'font-family': 'Liberation Mono, monospace'});
  t.textContent = String(f);
  
  
});
</script>
</body></html>
